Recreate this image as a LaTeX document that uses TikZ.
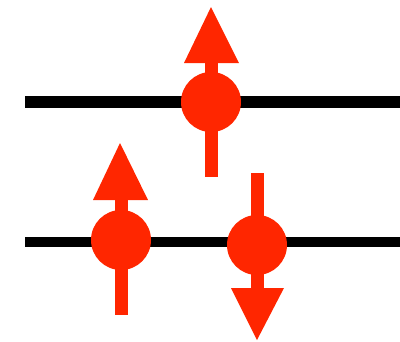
\documentclass[tikz,border=0pt]{standalone}
\definecolor{spinred}{RGB}{255,38,0}
\tikzset{
  level/.style={line width=12pt, black},
  electron/.style={circle, fill=spinred, minimum size=60pt, inner sep=0pt},
  shaft/.style={line width=13pt, spinred},
  head/.style={fill=spinred}
}
\begin{document}
\begin{tikzpicture}[x=1pt,y=-1pt]
\useasboundingbox (0,0) rectangle (400,341);
% energy levels
\coordinate (t1) at (25,102);
\coordinate (t2) at (400,102);
\coordinate (b1) at (25,242);
\coordinate (b2) at (400,242);
\draw[level] (t1) -- (t2);
\draw[level, line width=10pt] (b1) -- (b2);
% top electron, spin up
\coordinate (ta) at (211,63);
\coordinate (tb) at (211,177);
\draw[shaft] (ta) -- (tb);
\fill[head] (211,7) -- (184,63) -- (239,63) -- cycle;
\node[electron] (e1) at (211,102) {};
% bottom-left electron, spin up
\coordinate (la) at (121,200);
\coordinate (lb) at (121,315);
\draw[shaft] (la) -- (lb);
\fill[head] (120,143) -- (93,200) -- (148,200) -- cycle;
\node[electron] (e2) at (121,240) {};
% bottom-right electron, spin down
\coordinate (ra) at (257,173);
\coordinate (rb) at (257,288);
\draw[shaft] (ra) -- (rb);
\fill[head] (257,340) -- (231,288) -- (284,288) -- cycle;
\node[electron] (e3) at (257,245) {};
\end{tikzpicture}
\end{document}
